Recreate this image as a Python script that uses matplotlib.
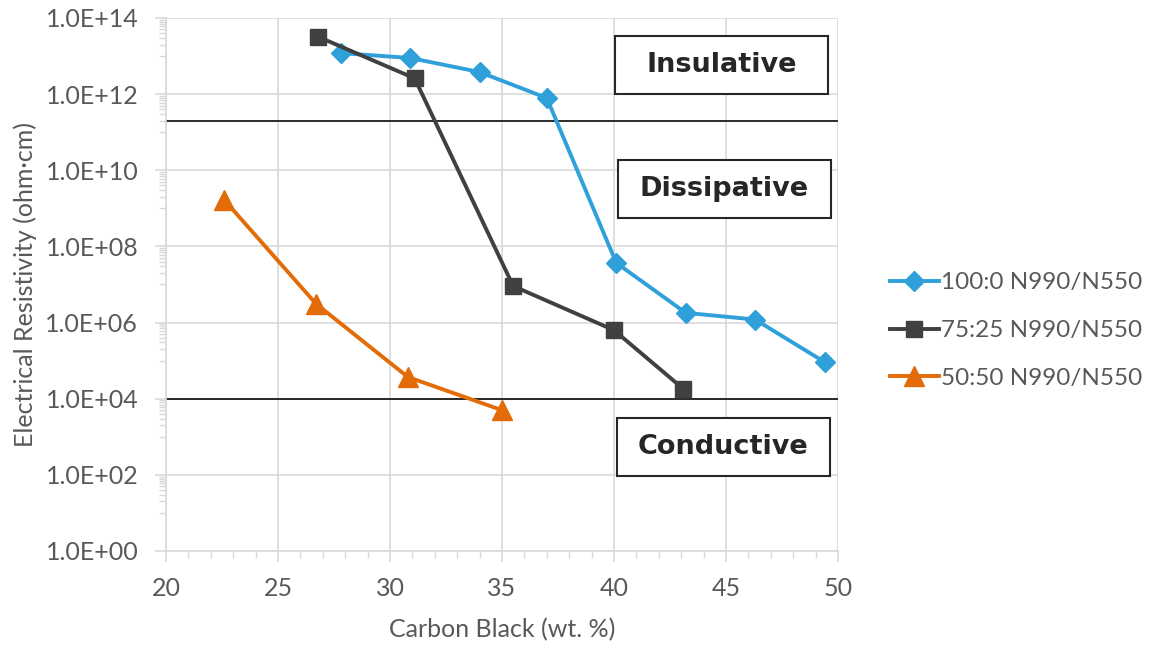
import matplotlib
matplotlib.use('Agg')
import matplotlib.pyplot as plt
from matplotlib.patches import Rectangle
from matplotlib.ticker import FixedLocator, NullFormatter

# data
x_100 = [27.8, 30.9, 34.0, 37.0, 40.1, 43.2, 46.3, 49.4]
y_100 = [1.2e13, 8.9e12, 3.8e12, 7.9e11, 3.7e7, 1.8e6, 1.2e6, 9.2e4]
x_75 = [26.8, 31.1, 35.5, 40.0, 43.1]
y_75 = [3.2e13, 2.6e12, 9.1e6, 6.3e5, 1.8e4]
x_50 = [22.6, 26.7, 30.8, 35.0]
y_50 = [1.66e9, 3.1e6, 3.7e4, 5.0e3]
labels = ['100:0 N990/N550', '75:25 N990/N550', '50:50 N990/N550']
limits = [2e11, 1e4]
regions = ['Insulative', 'Dissipative', 'Conductive']

plt.rcParams['font.family'] = ['Lato', 'DejaVu Sans']
grey = '#595959'

fig = plt.figure(figsize=(11.56, 6.47), dpi=100)
ax = fig.add_axes([0.1436, 0.1484, 0.5813, 0.8238])

ax.set_yscale('log')
ax.set_xlim(20, 50)
ax.set_ylim(1, 1e14)

# zone limits
for v in limits:
    ax.axhline(v, color='#1a1a1a', lw=1.3, zorder=2)

ax.plot(x_100, y_100, color='#2FA0DA', lw=2.8, marker='D', ms=10, label=labels[0], zorder=3)
ax.plot(x_75, y_75, color='#404040', lw=2.8, marker='s', ms=12, label=labels[1], zorder=3)
ax.plot(x_50, y_50, color='#E36C09', lw=2.8, marker='^', ms=14, label=labels[2], zorder=3)

# zone boxes (axes fraction: left, bottom, width, height)
boxes = [(0.668, 0.857, 0.317, 0.109),
         (0.673, 0.625, 0.316, 0.109),
         (0.671, 0.141, 0.317, 0.109)]
for t, (bx, by, bw, bh) in zip(regions, boxes):
    ax.add_patch(Rectangle((bx, by), bw, bh, transform=ax.transAxes, fc='white',
                           ec='#262626', lw=1.5, zorder=4))
    ax.text(bx + bw / 2, by + bh / 2, t, transform=ax.transAxes, ha='center', va='center',
            fontsize=19.5, fontweight='bold', family=['DejaVu Sans'], color='#262626', zorder=5)

ax.yaxis.set_major_locator(FixedLocator([10.0 ** k for k in range(0, 15, 2)]))
minors = [k * 10.0 ** e for e in range(1, 14, 2) for k in range(1, 10)]
ax.yaxis.set_minor_locator(FixedLocator(minors))
ax.yaxis.set_minor_formatter(NullFormatter())
ax.set_yticklabels(['1.0E+%02d' % k for k in range(0, 15, 2)])
ax.set_xticks(range(20, 51, 5))
ax.xaxis.set_minor_locator(FixedLocator(range(20, 51)))

ax.grid(True, which='major', color='#D9D9D9', lw=1.2, zorder=0)
for s in ['top', 'right']:
    ax.spines[s].set_visible(False)
for s in ['left', 'bottom']:
    ax.spines[s].set_color('#D9D9D9')
    ax.spines[s].set_linewidth(1.2)
ax.tick_params(which='both', color='#D9D9D9', labelcolor=grey, labelsize=18)
ax.tick_params(which='major', length=8, width=1.2)
ax.tick_params(which='minor', length=5, width=1)
ax.tick_params(axis='x', pad=11)
ax.tick_params(axis='y', pad=12)

ax.set_xlabel('Carbon Black (wt. %)', fontsize=18, color=grey, labelpad=13)
ax.set_ylabel('Electrical Resistivity (ohm·cm)', fontsize=18, color=grey, labelpad=6)

fig.legend(loc='center left', bbox_to_anchor=(0.751, 0.489), frameon=False, fontsize=17.5,
           handlelength=2.0, handletextpad=0.08, labelspacing=1.1, labelcolor=grey)

fig.savefig('out.png', dpi=100)
